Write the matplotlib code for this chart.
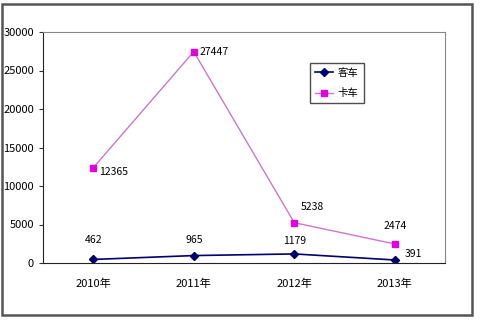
import numpy as np
import matplotlib
matplotlib.use("Agg")
import matplotlib.pyplot as plt
from matplotlib.patches import Rectangle

plt.rcParams['font.family'] = ['Noto Sans CJK SC', 'DejaVu Sans']

years = ["2010年", "2011年", "2012年", "2013年"]
bus = [462, 965, 1179, 391]        # 客车
truck = [12365, 27447, 5238, 2474]  # 卡车

fig = plt.figure(figsize=(4.8, 3.2), dpi=100)
fig.patches.append(Rectangle((2 / 480, 5 / 320), 470 / 480, 311 / 320,
                             transform=fig.transFigure, fill=False,
                             edgecolor='#555555', linewidth=1.8))

ax = fig.add_axes([43 / 480, 57 / 320, 402 / 480, 231 / 320])
x = np.arange(len(years))

ax.plot(x, bus, color='#000070', linewidth=1.2, marker='D', markersize=4,
        label='客车')
ax.plot(x, truck, color='#cc77cc', linewidth=1.0, marker='s', markersize=4.5,
        markerfacecolor='#e000e0', markeredgecolor='#e000e0', label='卡车')

# data labels
offsets_truck = [(4, -3), (4, 0), (5, 11), (0, 13)]
for xi, v, (dx, dy) in zip(x, truck, offsets_truck):
    ax.annotate(str(v), (xi, v), textcoords='offset points', xytext=(dx, dy),
                fontsize=7.5, va='center', ha='left' if dx > 0 else 'center')
offsets_bus = [(0, 14), (0, 11), (0, 9), (7, 4)]
for xi, v, (dx, dy) in zip(x, bus, offsets_bus):
    ax.annotate(str(v), (xi, v), textcoords='offset points', xytext=(dx, dy),
                fontsize=7.5, va='center', ha='center' if dx == 0 else 'left')

ax.set_xlim(-0.5, len(years) - 0.5)
ax.set_ylim(0, 30000)
ax.set_yticks(np.arange(0, 30001, 5000))
ax.set_xticks(x)
ax.set_xticklabels(years)
ax.tick_params(axis='both', labelsize=8, length=3, color='#333333')
ax.tick_params(axis='x', length=0, pad=11)

for side in ['top', 'right']:
    ax.spines[side].set_color('#888888')
for side in ['left', 'bottom']:
    ax.spines[side].set_color('#222222')

leg = ax.legend(loc='upper left', bbox_to_anchor=(0.65, 0.89), fontsize=7.5,
                frameon=True, fancybox=False, edgecolor='#222222',
                handlelength=1.8, handletextpad=0.4, borderpad=0.5,
                labelspacing=1.0)
leg.get_frame().set_linewidth(1.0)

fig.savefig("out.png", dpi=100)
